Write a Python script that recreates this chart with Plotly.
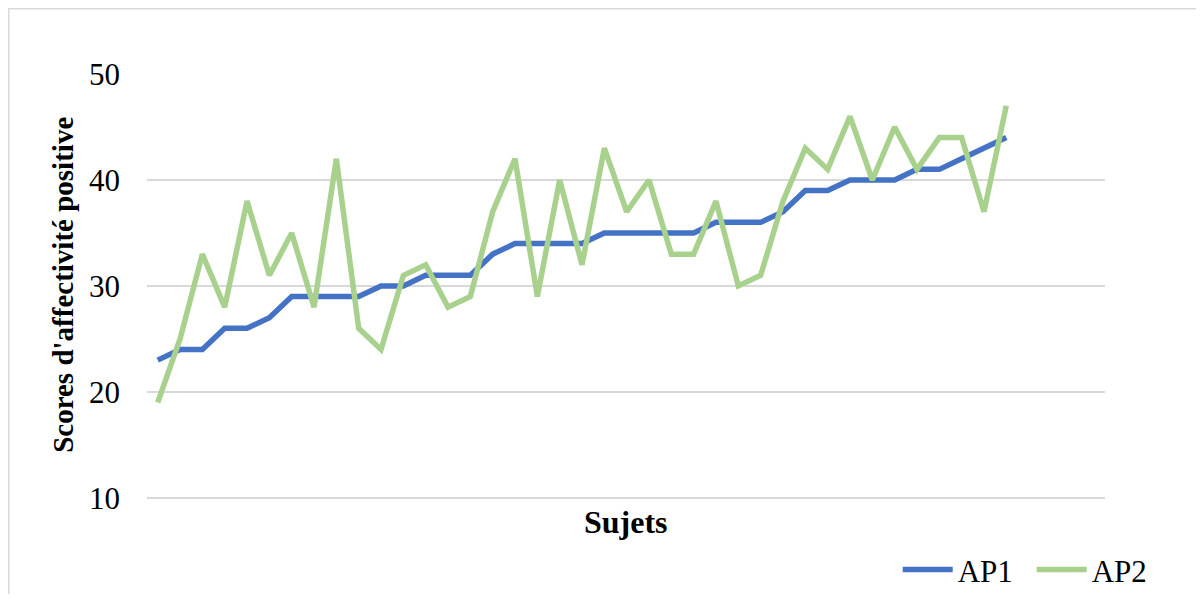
import plotly.graph_objects as go

# scores per subject
sujets = list(range(1, 40))
ap1 = [23, 24, 24, 26, 26, 27, 29, 29, 29, 29, 30, 30, 31, 31, 31, 33, 34, 34, 34, 34,
       35, 35, 35, 35, 35, 36, 36, 36, 37, 39, 39, 40, 40, 40, 41, 41, 42, 43, 44]
ap2 = [19, 25, 33, 28, 38, 31, 35, 28, 42, 26, 24, 31, 32, 28, 29, 37, 42, 29, 40, 32,
       43, 37, 40, 33, 33, 38, 30, 31, 38, 43, 41, 46, 40, 45, 41, 44, 44, 37, 47]
y_ticks = [10, 20, 30, 40, 50]

font_serif = "Liberation Serif"

fig = go.Figure()
fig.add_trace(go.Scatter(x=sujets, y=ap1, mode="lines", name="AP1",
                         line=dict(color="#4472C4", width=5.5, shape="linear")))
fig.add_trace(go.Scatter(x=sujets, y=ap2, mode="lines", name="AP2",
                         line=dict(color="#A9D18E", width=5.5, shape="linear")))

# the page body keeps its 8px margin all round, so the figure is 16px smaller
# y range starts a hair under 10 so plotly still draws the bottom gridline
fig.update_layout(
    width=1188, height=586,
    margin=dict(l=139, r=91, t=66, b=94),
    paper_bgcolor="white",
    plot_bgcolor="white",
    font=dict(family=font_serif, size=31, color="black"),
    xaxis=dict(range=[0.52, 43.42], showgrid=False, zeroline=False,
               showline=False, showticklabels=False, ticks=""),
    yaxis=dict(range=[9.8, 50], tickvals=y_ticks, showgrid=True,
               gridcolor="#D9D9D9", gridwidth=1.5, zeroline=False,
               showline=False, ticks="", ticklabelstandoff=26,
               tickfont=dict(family=font_serif, size=31, color="black")),
    showlegend=True,
    legend=dict(orientation="h", xref="container", yref="container",
                x=0.9745, xanchor="right", y=0.041, yanchor="middle",
                font=dict(family=font_serif, size=31),
                itemwidth=50, entrywidth=69, bgcolor="rgba(0,0,0,0)"),
    annotations=[
        dict(text="<b>Sujets</b>", xref="paper", yref="paper", x=0.5, y=-0.0514,
             xanchor="center", yanchor="middle", showarrow=False,
             font=dict(family=font_serif, size=32)),
        dict(text="<b>Scores d'affectivité positive</b>", xref="paper", yref="paper",
             x=-0.0877, y=0.505, textangle=-90, xanchor="center", yanchor="middle",
             showarrow=False, font=dict(family=font_serif, size=29)),
    ],
    shapes=[
        dict(type="rect", xref="paper", yref="paper", x0=-0.1443, x1=1.2,
             y0=-0.4, y1=1.153, line=dict(color="#D9D9D9", width=1.5),
             layer="below"),
    ],
)

fig.write_html("out.html")
